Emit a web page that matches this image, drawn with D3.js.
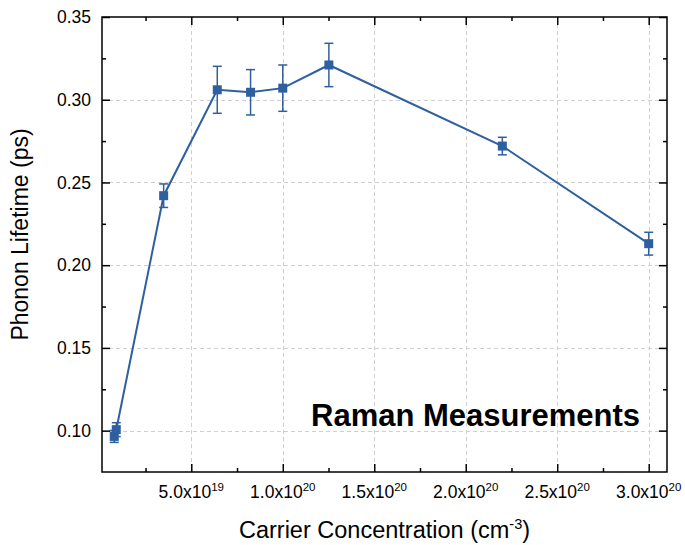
<!DOCTYPE html>
<html>
<head>
<meta charset="utf-8">
<script src="https://cdn.jsdelivr.net/npm/d3@7"></script>
<style>
  body { margin: 0; background: #fff; }
  svg { display: block; }
  text { font-family: Arial, "Liberation Sans", sans-serif; fill: #000; }
</style>
</head>
<body>
<svg id="chart" width="685" height="545"></svg>
<script>
// ---- data ----
const carrier = [7.9e18, 9.0e18, 3.49e19, 6.42e19, 8.24e19, 1.0e20, 1.252e20, 2.20e20, 3.0e20];
const lifetime = [0.0965, 0.1006, 0.242, 0.306, 0.3045, 0.307, 0.321, 0.272, 0.213];
const lifetimeErr = [0.0036, 0.0042, 0.0071, 0.0142, 0.0137, 0.014, 0.0131, 0.0053, 0.0069];
const xTickValues = [5e19, 1e20, 1.5e20, 2e20, 2.5e20, 3e20];
const xTickMantissa = ["5.0", "1.0", "1.5", "2.0", "2.5", "3.0"];
const xTickExponent = ["19", "20", "20", "20", "20", "20"];
const yTickValues = [0.10, 0.15, 0.20, 0.25, 0.30, 0.35];
const yTickLabels = ["0.10", "0.15", "0.20", "0.25", "0.30", "0.35"];
const xMinor = [2.5e19, 7.5e19, 1.25e20, 1.75e20, 2.25e20, 2.75e20];
const yMinor = [0.125, 0.175, 0.225, 0.275, 0.325];

// ---- layout ----
const L = 102, R = 667, T = 17, B = 472;
const color = "#2F5F9F";
const svg = d3.select("#chart");

const x = d3.scaleLinear().domain([1.2e18, 3.1e20]).range([L, R]);
const y = d3.scaleLinear().domain([0.075, 0.35]).range([B, T]);

// grid
const grid = svg.append("g").attr("stroke", "#d0d0d0").attr("stroke-width", 1).attr("stroke-dasharray", "4,3");
grid.selectAll("line.vx").data(xTickValues).join("line")
  .attr("x1", d => Math.round(x(d)) + 0.5).attr("x2", d => Math.round(x(d)) + 0.5)
  .attr("y1", T).attr("y2", B);
grid.selectAll("line.hy").data(yTickValues.filter(v => v < 0.35)).join("line")
  .attr("y1", d => Math.round(y(d)) + 0.5).attr("y2", d => Math.round(y(d)) + 0.5)
  .attr("x1", L).attr("x2", R);

// axes with inward ticks (using d3 axis generators)
const fmtNone = () => "";
function addAxis(gen, transform) {
  const g = svg.append("g").attr("transform", transform).call(gen);
  g.select(".domain").remove();
  g.selectAll(".tick line").attr("stroke", "#000").attr("stroke-width", 1.5);
  g.selectAll(".tick text").remove();
  return g;
}
// bottom
addAxis(d3.axisTop(x).tickValues(xTickValues).tickSize(8).tickFormat(fmtNone), `translate(0,${B})`);
addAxis(d3.axisTop(x).tickValues(xMinor).tickSize(4).tickFormat(fmtNone), `translate(0,${B})`);
// top
addAxis(d3.axisBottom(x).tickValues(xTickValues).tickSize(8).tickFormat(fmtNone), `translate(0,${T})`);
addAxis(d3.axisBottom(x).tickValues(xMinor).tickSize(4).tickFormat(fmtNone), `translate(0,${T})`);
// left
addAxis(d3.axisRight(y).tickValues(yTickValues).tickSize(8).tickFormat(fmtNone), `translate(${L},0)`);
addAxis(d3.axisRight(y).tickValues(yMinor).tickSize(4).tickFormat(fmtNone), `translate(${L},0)`);
// right
addAxis(d3.axisLeft(y).tickValues(yTickValues).tickSize(8).tickFormat(fmtNone), `translate(${R},0)`);
addAxis(d3.axisLeft(y).tickValues(yMinor).tickSize(4).tickFormat(fmtNone), `translate(${R},0)`);

// frame
svg.append("rect").attr("x", L).attr("y", T).attr("width", R - L).attr("height", B - T)
  .attr("fill", "none").attr("stroke", "#000").attr("stroke-width", 1.5);

// y tick labels
svg.append("g").selectAll("text").data(yTickValues).join("text")
  .attr("x", L - 11).attr("y", d => y(d)).attr("dy", "0.35em")
  .attr("text-anchor", "end").attr("font-size", 17.5)
  .text((d, i) => yTickLabels[i]);

// x tick labels with superscript exponents
const xl = svg.append("g").selectAll("text").data(xTickValues).join("text")
  .attr("x", d => x(d)).attr("y", B + 26)
  .attr("text-anchor", "middle").attr("font-size", 17.5);
xl.append("tspan").text((d, i) => xTickMantissa[i] + "x10");
xl.append("tspan").attr("dy", -7).attr("font-size", 11.5).text((d, i) => xTickExponent[i]);

// axis titles
const xt = svg.append("text").attr("x", (L + R) / 2).attr("y", 538)
  .attr("text-anchor", "middle").attr("font-size", 23.5);
xt.append("tspan").text("Carrier Concentration (cm");
xt.append("tspan").attr("dy", -9).attr("font-size", 14.5).text("-3");
xt.append("tspan").attr("dy", 9).text(")");

svg.append("text").attr("transform", `translate(28,${(T + B) / 2 - 10}) rotate(-90)`)
  .attr("text-anchor", "middle").attr("font-size", 23)
  .text("Phonon Lifetime (ps)");

// series
const pts = carrier.map((c, i) => ({ c, v: lifetime[i], e: lifetimeErr[i] }));
svg.append("path").datum(pts)
  .attr("fill", "none").attr("stroke", color).attr("stroke-width", 2)
  .attr("d", d3.line().x(d => x(d.c)).y(d => y(d.v)));

const eb = svg.append("g").attr("stroke", color).attr("stroke-width", 1.5);
pts.forEach(d => {
  const cx = x(d.c), y1 = y(d.v + d.e), y2 = y(d.v - d.e);
  eb.append("line").attr("x1", cx).attr("x2", cx).attr("y1", y1).attr("y2", y2);
  eb.append("line").attr("x1", cx - 4.5).attr("x2", cx + 4.5).attr("y1", y1).attr("y2", y1);
  eb.append("line").attr("x1", cx - 4.5).attr("x2", cx + 4.5).attr("y1", y2).attr("y2", y2);
});

svg.append("g").selectAll("rect").data(pts).join("rect")
  .attr("x", d => x(d.c) - 4.5).attr("y", d => y(d.v) - 4.5)
  .attr("width", 9).attr("height", 9).attr("fill", color);

// annotation
svg.append("text").attr("x", 311).attr("y", 426)
  .attr("font-size", 31).attr("font-weight", "bold")
  .text("Raman Measurements");
</script>
</body>
</html>
